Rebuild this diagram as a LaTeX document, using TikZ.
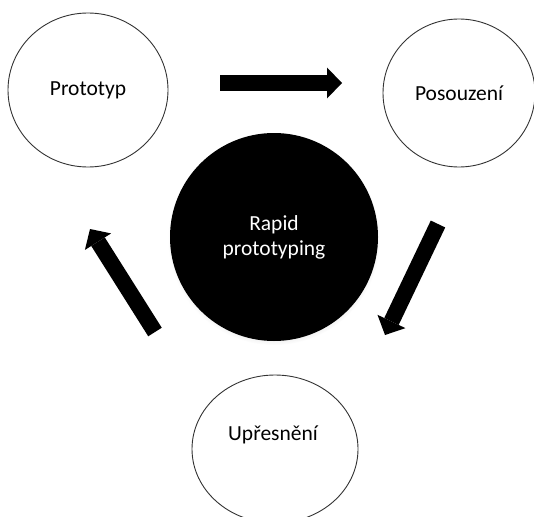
\documentclass[tikz,border=0pt]{standalone}
\usepackage{fontspec}
\setmainfont{Carlito}
\usetikzlibrary{arrows.meta, shapes.geometric, shadows}

\begin{document}
\begin{tikzpicture}[
    x=1pt, y=-1pt,
    bubble/.style={ellipse, draw=black!80, line width=0.9pt, fill=white, inner sep=0pt, align=center, font=\fontsize{21.5}{25}\selectfont},
    hub/.style={circle, fill=black, inner sep=0pt, minimum size=208pt, text=white, align=center, font=\fontsize{21.5}{25}\selectfont,
        circular drop shadow={shadow xshift=0pt, shadow yshift=-2pt, shadow scale=1.02, opacity=0.3}},
    caption/.style={font=\fontsize{21.5}{25}\selectfont, text=black},
    flow/.style={line width=16pt, -{Triangle[length=15pt, width=31pt, line width=0pt]}}
]
    \useasboundingbox (0,0) rectangle (534,516);
    \clip (0,0) rectangle (534,516);

    % Cycle stages
    \node[bubble, minimum width=160pt, minimum height=154pt] (proto) at (88,90) {Prototyp};
    \node[bubble, minimum width=152pt, minimum height=148pt] (posouz) at (459,93) {Posouzení};
    \node[bubble, minimum width=166pt, minimum height=148pt] (upres) at (275,449) {};
    \node[caption] (upres_label) at (273,435) {Upřesnění};

    % Centre
    \node[hub] (rapid) at (274,237) {Rapid\\prototyping};

    % Arrows
    \coordinate (a1_tail) at (220,83);
    \coordinate (a1_tip) at (342,83);
    \coordinate (a2_tail) at (438,224);
    \coordinate (a2_tip) at (385,335);
    \coordinate (a3_tail) at (155,332);
    \coordinate (a3_tip) at (90,229);

    \draw[flow] (a1_tail) -- (a1_tip);
    \draw[flow] (a2_tail) -- (a2_tip);
    \draw[flow] (a3_tail) -- (a3_tip);
\end{tikzpicture}
\end{document}
